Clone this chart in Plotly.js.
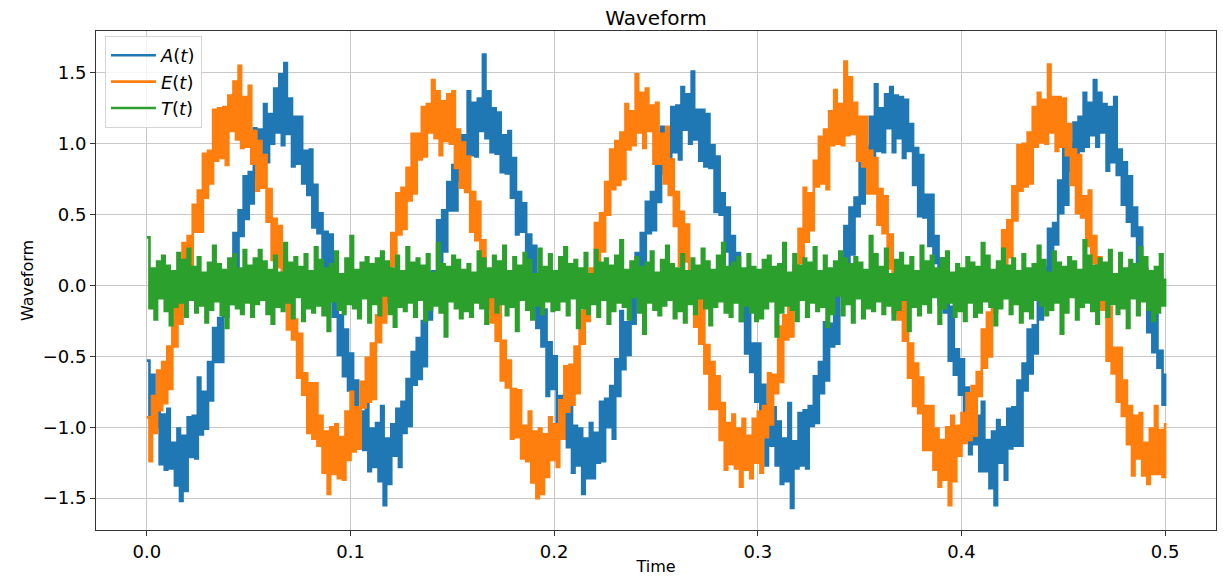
<!DOCTYPE html>
<html><head><meta charset="utf-8">
<script src="https://cdn.plot.ly/plotly-3.0.1.min.js"></script>
<style>html,body{margin:0;padding:0;background:#fff}#chart{width:1230px;height:576px}</style>
</head><body><div id="chart"></div>
<script>
// sampling grid of the time axis (s)
const tStart = 0;
const tStep = 0.00125;

const seriesNames = ['<i>A</i>(<i>t</i>)', '<i>E</i>(<i>t</i>)', '<i>T</i>(<i>t</i>)'];
const seriesColors = ['#1f77b4', '#ff7f0e', '#2ca02c'];

const aValues = [
-0.53,-0.93,-0.63,-1.00,-0.85,-1.26,-0.91,-1.30,-0.87,-1.29,
-1.11,-1.41,-1.01,-1.52,-1.06,-1.45,-0.93,-1.21,-0.92,-1.22,
-0.65,-1.05,-0.75,-1.01,-0.54,-0.81,-0.30,-0.54,-0.23,-0.54,
0.01,-0.22,0.11,-0.13,0.37,-0.07,0.53,0.35,0.77,0.47,
0.80,0.58,1.11,0.76,1.10,0.83,1.28,0.87,1.21,1.00,
1.39,1.08,1.49,0.99,1.57,1.07,1.32,0.84,1.19,0.86,
1.19,0.72,0.95,0.64,0.96,0.41,0.71,0.37,0.51,-0.02,
0.38,-0.06,0.36,-0.22,-0.08,-0.49,-0.21,-0.64,-0.31,-0.74,
-0.48,-0.95,-0.67,-1.15,-0.89,-1.16,-0.81,-1.31,-1.01,-1.28,
-0.97,-1.38,-0.85,-1.55,-1.08,-1.40,-0.98,-1.20,-0.87,-1.28,
-0.82,-1.04,-0.66,-0.99,-0.47,-0.70,-0.37,-0.66,-0.25,-0.57,
0.02,-0.24,0.10,-0.09,0.46,0.16,0.53,0.24,0.73,0.53,
0.85,0.53,1.07,0.74,1.06,0.88,1.37,0.92,1.29,0.91,
1.32,1.09,1.63,1.04,1.37,0.94,1.25,0.93,1.22,0.80,
1.06,0.79,1.09,0.62,0.90,0.36,0.66,0.38,0.58,0.09,
0.36,-0.04,0.28,-0.30,-0.09,-0.43,-0.17,-0.78,-0.40,-0.73,
-0.50,-1.02,-0.78,-1.08,-0.77,-1.14,-0.78,-1.32,-0.99,-1.27,
-1.01,-1.47,-1.08,-1.36,-0.97,-1.36,-1.04,-1.25,-0.82,-1.24,
-0.80,-1.00,-0.71,-1.08,-0.52,-0.78,-0.18,-0.59,-0.26,-0.49,
-0.03,-0.27,0.23,-0.02,0.37,0.13,0.59,0.37,0.66,0.39,
0.87,0.59,1.12,0.79,1.05,0.81,1.26,0.94,1.27,0.89,
1.40,1.10,1.35,1.00,1.51,1.03,1.24,0.88,1.24,0.84,
1.21,0.83,0.99,0.52,0.91,0.50,0.65,0.24,0.55,-0.07,
0.35,-0.02,0.23,-0.25,-0.10,-0.48,-0.11,-0.61,-0.41,-0.82,
-0.41,-0.97,-0.70,-1.27,-0.84,-1.13,-0.86,-1.27,-0.96,-1.40,
-1.08,-1.38,-0.83,-1.57,-1.10,-1.29,-0.90,-1.27,-0.88,-1.29,
-0.85,-0.99,-0.64,-0.97,-0.54,-0.76,-0.26,-0.67,-0.27,-0.43,
0.01,-0.41,0.14,-0.01,0.42,0.11,0.55,0.22,0.62,0.49,
0.97,0.58,0.98,0.80,1.19,0.84,1.42,0.95,1.25,0.94,
1.35,1.11,1.40,0.94,1.34,1.04,1.33,0.90,1.31,0.95,
1.14,0.71,0.97,0.49,0.92,0.48,0.64,0.28,0.64,0.16,
0.35,-0.13,0.19,-0.19,-0.05,-0.53,-0.15,-0.63,-0.45,-0.77,
-0.52,-0.95,-0.72,-1.19,-0.76,-1.12,-0.92,-1.31,-0.82,-1.31,
-1.09,-1.43,-1.03,-1.55,-0.95,-1.25,-1.00,-1.37,-0.87,-1.15,
-0.86,-1.13,-0.67,-1.13,-0.55,-0.74,-0.31,-0.62,-0.28,-0.48,
0.07,-0.24,0.13,-0.10,0.40,0.04,0.44,0.29,0.74,0.51,
1.00,0.57,1.00,0.81,1.15,0.75,1.19,0.95,1.36,0.98,
1.29,1.06,1.45,0.98,1.36,1.08,1.28,0.81,1.26,0.87,
1.33,0.78,0.96,0.57,0.87,0.45,0.77,0.35,0.55,0.13,
0.41,0.00,0.12,-0.33,-0.03,-0.47,-0.10,-0.58,-0.46,-0.84,
-0.62
];

const eValues = [
-0.93,-1.24,-0.78,-1.04,-0.60,-0.88,-0.54,-0.83,-0.43,-0.73,
-0.16,-0.43,-0.10,-0.27,0.30,-0.03,0.35,0.05,0.57,0.38,
0.67,0.38,0.93,0.62,0.95,0.72,1.24,0.88,1.25,0.90,
1.26,0.85,1.34,1.09,1.44,1.03,1.55,0.97,1.33,0.98,
1.41,0.86,1.09,0.67,1.02,0.69,0.92,0.45,0.68,0.18,
0.47,0.13,0.42,-0.03,0.18,-0.31,0.07,-0.38,-0.24,-0.65,
-0.34,-0.77,-0.62,-1.04,-0.69,-1.08,-0.69,-1.13,-0.92,-1.32,
-1.03,-1.47,-1.00,-1.33,-0.98,-1.36,-1.07,-1.37,-0.89,-1.23,
-0.75,-1.17,-0.86,-1.15,-0.68,-0.86,-0.51,-0.82,-0.41,-0.80,
-0.21,-0.40,0.05,-0.26,0.09,-0.12,0.37,0.14,0.65,0.36,
0.69,0.40,0.83,0.60,1.07,0.65,1.07,0.89,1.26,0.91,
1.28,1.08,1.45,1.04,1.37,0.92,1.30,1.02,1.35,1.00,
1.37,0.83,1.10,0.69,1.01,0.66,0.91,0.38,0.66,0.32,
0.59,0.09,0.32,-0.16,0.10,-0.26,0.01,-0.39,-0.10,-0.67,
-0.39,-0.72,-0.53,-1.08,-0.73,-1.07,-0.74,-1.22,-0.99,-1.24,
-0.89,-1.39,-1.03,-1.50,-1.01,-1.47,-1.05,-1.35,-0.93,-1.23,
-0.98,-1.28,-0.81,-1.08,-0.57,-0.89,-0.56,-0.84,-0.43,-0.76,
-0.18,-0.41,0.03,-0.25,0.12,-0.11,0.44,0.16,0.51,0.24,
0.73,0.50,0.96,0.68,1.02,0.71,1.08,0.75,1.28,0.96,
1.23,0.99,1.49,1.08,1.36,0.97,1.39,1.09,1.27,0.86,
1.29,0.86,1.07,0.72,1.12,0.64,0.89,0.42,0.66,0.14,
0.52,0.17,0.43,-0.08,0.08,-0.29,0.00,-0.41,-0.03,-0.62,
-0.42,-0.87,-0.54,-0.87,-0.64,-1.09,-0.83,-1.30,-0.97,-1.26,
-0.91,-1.29,-1.01,-1.42,-0.94,-1.30,-1.06,-1.36,-0.94,-1.25,
-0.89,-1.32,-0.85,-1.07,-0.62,-0.98,-0.63,-0.76,-0.29,-0.68,
-0.21,-0.38,0.00,-0.36,0.14,-0.09,0.40,0.16,0.69,0.31,
0.65,0.39,0.88,0.70,1.05,0.72,1.10,0.68,1.23,0.99,
1.38,1.00,1.28,0.99,1.58,1.06,1.47,1.07,1.29,0.88,
1.19,0.84,1.19,0.65,0.95,0.65,0.90,0.43,0.68,0.37,
0.63,0.12,0.36,-0.19,0.11,-0.24,0.02,-0.39,-0.07,-0.65,
-0.41,-0.85,-0.55,-0.90,-0.65,-1.16,-0.85,-1.16,-0.85,-1.30,
-1.01,-1.42,-1.09,-1.37,-1.00,-1.55,-0.92,-1.38,-0.99,-1.20,
-0.90,-1.11,-0.76,-1.09,-0.71,-1.06,-0.61,-0.78,-0.31,-0.58,
-0.19,-0.50,0.07,-0.19,0.13,-0.10,0.39,0.14,0.46,0.20,
0.70,0.46,0.99,0.67,1.00,0.70,1.08,0.72,1.26,0.98,
1.36,1.01,1.31,1.00,1.56,1.08,1.33,0.95,1.33,0.98,
1.32,0.92,1.14,0.71,0.96,0.51,0.92,0.48,0.63,0.28,
0.67,0.16,0.35,-0.14,0.20,-0.17,-0.06,-0.53,-0.15,-0.62,
-0.44,-0.82,-0.44,-0.92,-0.67,-1.12,-0.85,-1.34,-0.92,-1.22,
-0.90,-1.34,-1.11,-1.40,-1.01,-1.33,-0.85,-1.33,-1.02,-1.35,
-0.97
];

const tValues = [
0.34,-0.16,0.12,-0.24,0.17,-0.09,0.21,-0.18,0.14,-0.28,
0.10,-0.15,0.23,-0.12,0.18,-0.22,0.26,-0.10,0.13,-0.19,
0.20,-0.14,0.09,-0.26,0.16,-0.17,0.28,-0.11,0.15,-0.21,
0.11,-0.30,0.19,-0.13,0.22,-0.16,0.12,-0.20,0.25,-0.12,
0.14,-0.22,0.19,-0.13,0.25,-0.10,0.17,-0.20,0.11,-0.27,
0.21,-0.15,0.09,-0.18,0.30,-0.12,0.16,-0.23,0.20,-0.08,
0.13,-0.25,0.22,-0.16,0.10,-0.19,0.27,-0.14,0.18,-0.21,
0.12,-0.32,0.15,-0.11,0.24,-0.17,0.08,-0.20,0.19,-0.13,
0.35,-0.16,0.11,-0.23,0.16,-0.09,0.20,-0.26,0.15,-0.13,
0.19,-0.21,0.24,-0.07,0.17,-0.20,0.12,-0.29,0.21,-0.15,
0.10,-0.18,0.27,-0.12,0.16,-0.22,0.19,-0.10,0.14,-0.25,
0.22,-0.17,0.09,-0.14,0.30,-0.19,0.15,-0.36,0.13,-0.11,
0.21,-0.16,0.18,-0.23,0.11,-0.18,0.15,-0.22,0.09,-0.12,
0.24,-0.16,0.19,-0.27,0.12,-0.08,0.21,-0.19,0.17,-0.13,
0.28,-0.21,0.10,-0.15,0.20,-0.32,0.14,-0.10,0.23,-0.17,
0.18,-0.24,0.08,-0.14,0.26,-0.20,0.13,-0.11,0.22,-0.18,
0.10,-0.17,0.20,-0.11,0.27,-0.21,0.15,-0.09,0.18,-0.30,
0.12,-0.16,0.23,-0.20,0.08,-0.13,0.25,-0.22,0.16,-0.10,
0.19,-0.27,0.14,-0.18,0.21,-0.12,0.32,-0.15,0.11,-0.24,
0.17,-0.08,0.20,-0.19,0.13,-0.34,0.16,-0.12,0.24,-0.17,
0.09,-0.21,0.18,-0.14,0.28,-0.10,0.15,-0.23,0.12,-0.18,
0.22,-0.26,0.10,-0.13,0.19,-0.20,0.14,-0.09,0.26,-0.16,
0.17,-0.28,0.11,-0.15,0.21,-0.11,0.30,-0.19,0.13,-0.22,
0.16,-0.12,0.20,-0.25,0.12,-0.14,0.22,-0.19,0.13,-0.25,
0.11,-0.23,0.18,-0.16,0.21,-0.11,0.13,-0.36,0.15,-0.19,
0.30,-0.14,0.09,-0.17,0.22,-0.25,0.14,-0.10,0.19,-0.22,
0.16,-0.12,0.27,-0.18,0.10,-0.15,0.21,-0.29,0.12,-0.20,
0.17,-0.07,0.24,-0.21,0.19,-0.13,0.15,-0.26,0.20,-0.09,
0.16,-0.23,0.11,-0.16,0.35,-0.18,0.22,-0.11,0.13,-0.20,
0.26,-0.14,0.08,-0.24,0.18,-0.17,0.23,-0.10,0.14,-0.32,
0.20,-0.15,0.10,-0.21,0.28,-0.13,0.17,-0.19,0.21,-0.08,
0.12,-0.27,0.19,-0.16,0.24,-0.12,0.09,-0.22,0.15,-0.18,
0.12,-0.25,0.20,-0.12,0.16,-0.22,0.13,-0.19,0.30,-0.11,
0.21,-0.15,0.11,-0.28,0.17,-0.16,0.26,-0.09,0.14,-0.20,
0.19,-0.13,0.10,-0.26,0.22,-0.18,0.12,-0.23,0.15,-0.10,
0.28,-0.14,0.18,-0.21,0.09,-0.17,0.24,-0.12,0.16,-0.34,
0.13,-0.19,0.20,-0.08,0.17,-0.24,0.11,-0.15,0.32,-0.12,
0.21,-0.18,0.14,-0.27,0.19,-0.10,0.16,-0.22,0.25,-0.13,
0.08,-0.20,0.23,-0.16,0.12,-0.30,0.18,-0.09,0.15,-0.21,
0.27,-0.11,0.20,-0.17,0.10,-0.25,0.13,-0.19,0.22,-0.14,
0.05
];

const xTickVals = [0, 0.1, 0.2, 0.3, 0.4, 0.5];
const yTickVals = [-1.5, -1.0, -0.5, 0, 0.5, 1.0, 1.5];

const allValues = [aValues, eValues, tValues];
const traces = allValues.map((vals, k) => ({
  type: 'scatter',
  mode: 'lines',
  name: seriesNames[k],
  x0: tStart,
  dx: tStep,
  y: vals,
  line: {color: seriesColors[k], width: 2.6, shape: 'hv', simplify: false},
  hoverinfo: 'skip'
}));

const font = 'DejaVu Sans, Verdana, sans-serif';
const axisCommon = {
  showline: true, mirror: true, linecolor: '#333', linewidth: 1,
  ticks: 'outside', ticklen: 5, tickcolor: '#333', tickwidth: 1,
  showgrid: true, gridcolor: '#c8c8c8', gridwidth: 1,
  zeroline: false, tickformat: '.1f',
  tickfont: {family: font, size: 18, color: '#000'}
};

const layout = {
  width: 1230, height: 576,
  margin: {l: 96, r: 14, t: 31, b: 46},
  paper_bgcolor: '#fff', plot_bgcolor: '#fff',
  showlegend: true,
  title: {text: 'Waveform', font: {family: font, size: 20, color: '#000'},
          x: 0.5, xref: 'paper', y: 1 - 18/576, yref: 'container', yanchor: 'middle'},
  xaxis: Object.assign({}, axisCommon, {
    range: [-0.025, 0.525], tickmode: 'array', tickvals: xTickVals,
    title: {text: 'Time', font: {family: font, size: 16, color: '#000'}, standoff: 2}
  }),
  yaxis: Object.assign({}, axisCommon, {
    range: [-1.725, 1.796], tickmode: 'array', tickvals: yTickVals,
    title: {text: 'Waveform', font: {family: font, size: 16, color: '#000'}, standoff: 5}
  }),
  legend: {
    x: 0.008, y: 0.99, xanchor: 'left', yanchor: 'top',
    bgcolor: 'rgba(255,255,255,0.8)', bordercolor: '#d4d4d4', borderwidth: 1,
    itemwidth: 45,
    font: {family: font, size: 18, color: '#000'}
  }
};

Plotly.newPlot('chart', traces, layout, {displayModeBar: false, staticPlot: true});
</script>
</body></html>
